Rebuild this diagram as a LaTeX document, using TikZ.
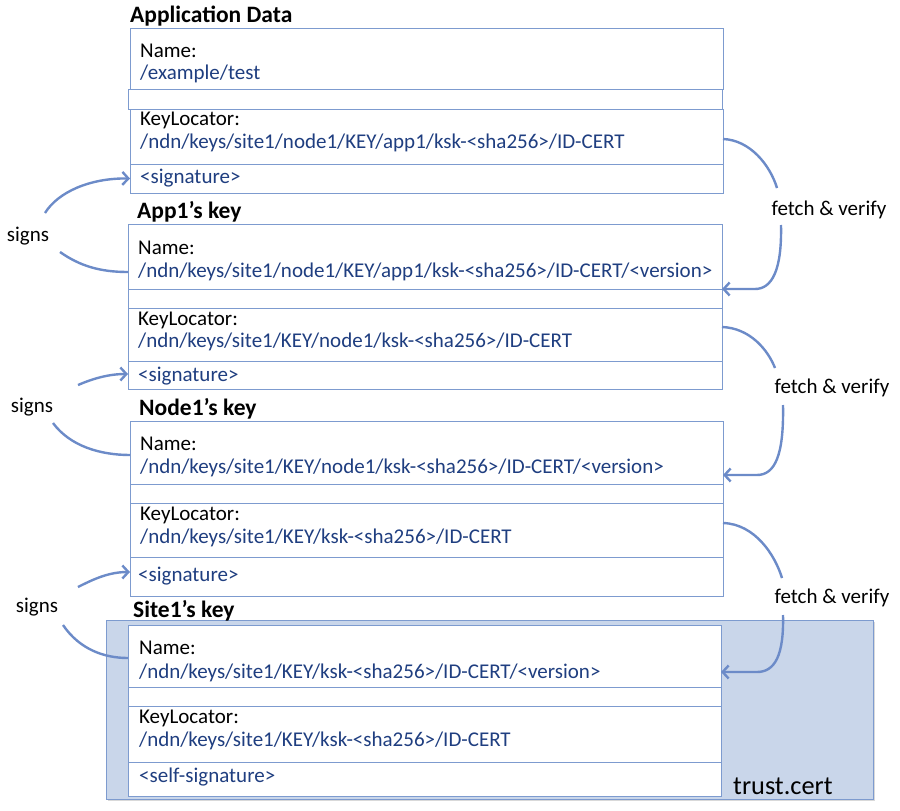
\documentclass[tikz,border=0pt]{standalone}
\usepackage{fontspec}
\setmainfont{Carlito}
\usetikzlibrary{arrows.meta}
\definecolor{boxblue}{RGB}{125,155,207}
\definecolor{arrblue}{RGB}{108,139,200}
\definecolor{txtblue}{RGB}{31,62,128}
\definecolor{trustfill}{RGB}{201,214,234}
\tikzset{
  row/.style={draw=boxblue, line width=0.9pt, anchor=north west, inner sep=0pt, outer sep=0pt, fill=white},
  lbl/.style={anchor=base west, inner sep=0pt, font=\fontsize{21}{24}\selectfont},
  val/.style={lbl, text=txtblue},
  ttl/.style={anchor=base west, inner sep=0pt, font=\fontsize{23.5}{26}\selectfont\bfseries},
  arr/.style={draw=arrblue, line width=2.4pt},
  tip/.style={-{Straight Barb[length=6pt,width=13pt,line width=2.4pt]}},
  note/.style={inner sep=0pt, font=\fontsize{21}{24}\selectfont}
}
\begin{document}
\begin{tikzpicture}[x=1pt,y=1pt]
\useasboundingbox (0,0) rectangle (900,-811);
% trust box
\fill[black!25, opacity=0.6] (108,-622) rectangle (875,-801);
\node[draw=boxblue, line width=0.9pt, fill=trustfill, anchor=north west, inner sep=0pt, outer sep=0pt,
      minimum width=767pt, minimum height=179pt] (trust) at (106,-620) {};
\node[anchor=base west, inner sep=0pt, font=\fontsize{26.3}{29}\selectfont] (trusttxt) at (733,-794) {trust.cert};

% Box 1
\node[ttl] (t1) at (130,-22) {Application Data};
\node[row, minimum width=593pt, minimum height=61pt] (b1n) at (130,-28) {};
\node[row, minimum width=594pt, minimum height=20pt] (b1s) at (128,-89) {};
\node[row, minimum width=593pt, minimum height=55pt] (b1k) at (130,-109) {};
\node[row, minimum width=593pt, minimum height=29pt] (b1g) at (130,-164) {};
\node[lbl] (b1nl) at (140,-57) {Name:};
\node[val] (b1nv) at (140,-79) {/example/test};
\node[lbl] (b1kl) at (140,-125) {KeyLocator:};
\node[val] (b1kv) at (140,-148) {/ndn/keys/site1/node1/KEY/app1/ksk-<sha256>/ID-CERT};
\node[val] (b1gv) at (140,-183) {<signature>};

% Box 2
\node[ttl] (t2) at (137,-218) {App1’s key};
\node[row, minimum width=594pt, minimum height=65pt] (b2n) at (128,-224) {};
\node[row, minimum width=594pt, minimum height=19pt] (b2s) at (128,-289) {};
\node[row, minimum width=594pt, minimum height=53pt] (b2k) at (128,-308) {};
\node[row, minimum width=594pt, minimum height=28pt] (b2g) at (128,-361) {};
\node[lbl] (b2nl) at (138,-254) {Name:};
\node[val] (b2nv) at (138,-277) {/ndn/keys/site1/node1/KEY/app1/ksk-<sha256>/ID-CERT/<version>};
\node[lbl] (b2kl) at (138,-325) {KeyLocator:};
\node[val] (b2kv) at (138,-347) {/ndn/keys/site1/KEY/node1/ksk-<sha256>/ID-CERT};
\node[val] (b2gv) at (138,-381) {<signature>};

% Box 3
\node[ttl] (t3) at (139,-415) {Node1’s key};
\node[row, minimum width=593pt, minimum height=63pt] (b3n) at (130,-421) {};
\node[row, minimum width=593pt, minimum height=19pt] (b3s) at (130,-484) {};
\node[row, minimum width=593pt, minimum height=54pt] (b3k) at (130,-503) {};
\node[row, minimum width=593pt, minimum height=39pt] (b3g) at (130,-557) {};
\node[lbl] (b3nl) at (140,-450) {Name:};
\node[val] (b3nv) at (140,-473) {/ndn/keys/site1/KEY/node1/ksk-<sha256>/ID-CERT/<version>};
\node[lbl] (b3kl) at (140,-520) {KeyLocator:};
\node[val] (b3kv) at (140,-543) {/ndn/keys/site1/KEY/ksk-<sha256>/ID-CERT};
\node[val] (b3gv) at (138,-581) {<signature>};

% Box 4
\node[ttl] (t4) at (133,-617) {Site1’s key};
\node[row, minimum width=593pt, minimum height=62pt] (b4n) at (128,-625) {};
\node[row, minimum width=593pt, minimum height=19pt] (b4s) at (128,-687) {};
\node[row, minimum width=593pt, minimum height=56pt] (b4k) at (128,-706) {};
\node[row, minimum width=593pt, minimum height=34pt] (b4g) at (128,-762) {};
\node[lbl] (b4nl) at (139,-654) {Name:};
\node[val] (b4nv) at (139,-678) {/ndn/keys/site1/KEY/ksk-<sha256>/ID-CERT/<version>};
\node[lbl] (b4kl) at (139,-723) {KeyLocator:};
\node[val] (b4kv) at (139,-746) {/ndn/keys/site1/KEY/ksk-<sha256>/ID-CERT};
\node[val] (b4gv) at (139,-782) {<self-signature>};

% signs labels
\node[note] (s1) at (28,-236) {signs};
\node[note] (s2) at (32,-407) {signs};
\node[note] (s3) at (37,-607) {signs};

% fetch labels
\node[note] (f1) at (829,-210) {fetch \& verify};
\node[note] (f2) at (832,-388) {fetch \& verify};
\node[note] (f3) at (832,-598) {fetch \& verify};

% anchor coordinates
\coordinate (s1a) at (45,-213);  \coordinate (s1b) at (60,-252);
\coordinate (s2a) at (78,-385);  \coordinate (s2b) at (53,-423);
\coordinate (s3a) at (78,-587);  \coordinate (s3b) at (63,-625);
\coordinate (f1a) at (777,-188); \coordinate (f1b) at (781,-225);
\coordinate (f2a) at (775,-368); \coordinate (f2b) at (783,-405);
\coordinate (f3a) at (782,-578); \coordinate (f3b) at (783,-615);

% signs arrows
\draw[arr, tip] (s1a) .. controls (58,-192) and (90,-178) .. (b1g.west);
\draw[arr] (s1b) .. controls (80,-266) and (100,-272) .. (b2n.west |- 0,-272);
\draw[arr, tip] (s2a) .. controls (92,-379) and (108,-374) .. (b2g.west |- 0,-374);
\draw[arr] (s2b) .. controls (70,-446) and (100,-455) .. (b3n.west |- 0,-455);
\draw[arr, tip] (s3a) .. controls (92,-580) and (108,-572) .. (b3g.west |- 0,-572);
\draw[arr] (s3b) .. controls (80,-650) and (105,-658) .. (b4n.west |- 0,-658);

% fetch arrows
\draw[arr] (b1k.east |- 0,-139) .. controls (750,-140) and (770,-165) .. (f1a);
\draw[arr, tip] (f1b) .. controls (782,-270) and (772,-289) .. (755,-289) -- (b2n.east |- 0,-289);
\draw[arr] (b2k.east |- 0,-327) .. controls (750,-328) and (768,-350) .. (f2a);
\draw[arr, tip] (f2b) .. controls (784,-455) and (775,-475) .. (757,-475) -- (b3n.east |- 0,-475);
\draw[arr] (b3k.east |- 0,-523) .. controls (755,-524) and (775,-555) .. (f3a);
\draw[arr, tip] (f3b) .. controls (784,-655) and (775,-672) .. (757,-672) -- (b4n.east |- 0,-672);
\end{tikzpicture}
\end{document}
